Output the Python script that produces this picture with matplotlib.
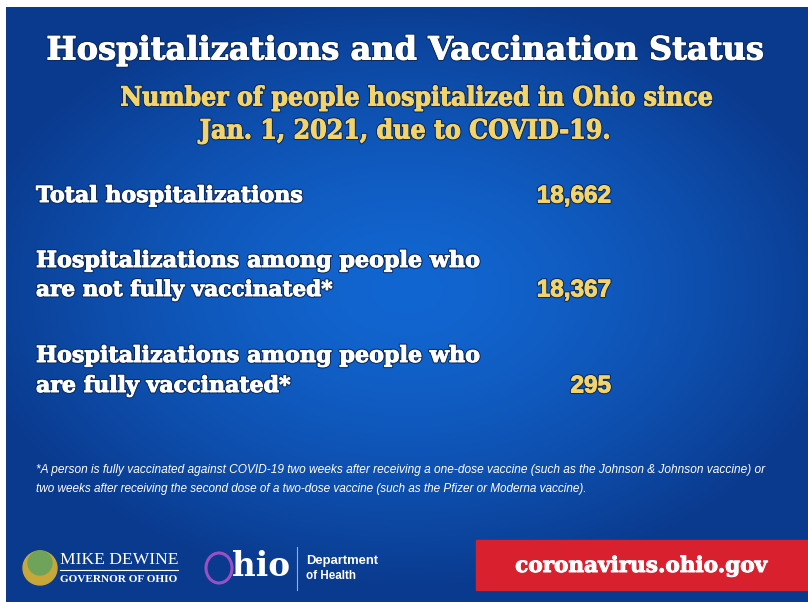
import numpy as np
import matplotlib.pyplot as plt
from matplotlib.patches import Rectangle, Circle, Ellipse
import matplotlib.patheffects as pe

W, H = 808, 602

title = 'Hospitalizations and Vaccination Status'
subtitle = ['Number of people hospitalized in Ohio since',
            'Jan. 1, 2021, due to COVID-19.']
row_labels = [['Total hospitalizations'],
              ['Hospitalizations among people who', 'are not fully vaccinated*'],
              ['Hospitalizations among people who', 'are fully vaccinated*']]
row_values = [18662, 18367, 295]
footnote = ['*A person is fully vaccinated against COVID-19 two weeks after receiving a one-dose vaccine (such as the Johnson & Johnson vaccine) or',
            'two weeks after receiving the second dose of a two-dose vaccine (such as the Pfizer or Moderna vaccine).']
url = 'coronavirus.ohio.gov'

yellow = '#f3d46a'

fig = plt.figure(figsize=(W / 100, H / 100), dpi=100)
ax = fig.add_axes([0, 0, 1, 1])
ax.set_xlim(0, W)
ax.set_ylim(H, 0)
ax.axis('off')
fig.patch.set_facecolor('white')
r = fig.canvas.get_renderer()

# blue background, brighter in the middle
xx, yy = np.meshgrid(np.linspace(-1, 1, 400), np.linspace(-1, 1, 300))
d = np.clip(np.sqrt((xx / 1.1) ** 2 + ((yy + 0.05) / 1.0) ** 2), 0, 1)
c0 = np.array([0.07, 0.40, 0.82])
c1 = np.array([0.04, 0.23, 0.56])
img = c0 + (c1 - c0) * d[..., None] ** 1.5
ax.imshow(img, extent=[6, W, H, 7], aspect='auto', zorder=0)


def fit(x, y, s, width, ha='left', **kw):
    t = ax.text(x, y, s, ha=ha, va='center', fontsize=20, **kw)
    w = t.get_window_extent(r).width
    t.set_fontsize(20 * width / w)
    return t


def heavy(color):
    return [pe.Stroke(linewidth=2.2, foreground='#0a2a60'),
            pe.Stroke(linewidth=0.7, foreground=color), pe.Normal()]


fit(404, 51, title, 718, ha='center', color='white', family='DejaVu Serif',
    weight='bold', path_effects=heavy('white'))
fit(416, 98, subtitle[0], 592, ha='center', color=yellow, family='DejaVu Serif',
    stretch='condensed', weight='bold', path_effects=heavy(yellow))
fit(405, 131, subtitle[1], 410, ha='center', color=yellow, family='DejaVu Serif',
    stretch='condensed', weight='bold', path_effects=heavy(yellow))

label_y = [[196], [261, 290], [356, 386]]
label_w = {'Total hospitalizations': 267,
           'Hospitalizations among people who': 444,
           'are not fully vaccinated*': 297,
           'are fully vaccinated*': 255}
for lines, ys, v in zip(row_labels, label_y, row_values):
    for s, y in zip(lines, ys):
        fit(36, y, s, label_w[s], color='white', family='DejaVu Serif', weight='bold',
            path_effects=heavy('white'))
    ax.text(611, ys[-1], f'{v:,}', ha='right', va='center', fontsize=17.5,
            color=yellow, family='Liberation Sans', weight='bold',
            path_effects=heavy(yellow))

fit(36, 470, footnote[0], 727, color='white', family='Liberation Sans', style='italic')
fit(36, 489, footnote[1], 554, color='white', family='Liberation Sans', style='italic')

# footer
ax.add_patch(Rectangle((476, 540), W - 476, 50, color='#d9202e', zorder=2))
fit(641, 566, url, 252, ha='center', color='white', family='DejaVu Serif',
    weight='bold', zorder=3, path_effects=[pe.Stroke(linewidth=0.7, foreground='white'), pe.Normal()])

ax.add_patch(Circle((40, 568), 17, color='#c7a63a', zorder=2))
ax.add_patch(Circle((40, 563), 12, color='#6fa35a', zorder=3))
fit(60, 560, 'MIKE DEWINE', 118, color='white', family='Liberation Serif')
ax.plot([60, 178], [570, 570], color='white', lw=0.8)
fit(60, 579, 'GOVERNOR OF OHIO', 118, color='white', family='Liberation Serif',
    weight='bold')

ax.add_patch(Ellipse((219, 568), 26, 30, fill=False, ec='#9b4fc4', lw=2.2, zorder=3))
fit(232, 566, 'hio', 58, color='white', family='DejaVu Serif', weight='bold')
ax.plot([297, 297], [547, 590], color='#8fb0e0', lw=0.8)
fit(306, 561, 'Department', 72, color='white', family='Liberation Sans', weight='bold')
fit(306, 576, 'of Health', 50, color='white', family='Liberation Sans', weight='bold')

fig.savefig('out.png', dpi=100, facecolor='white')
